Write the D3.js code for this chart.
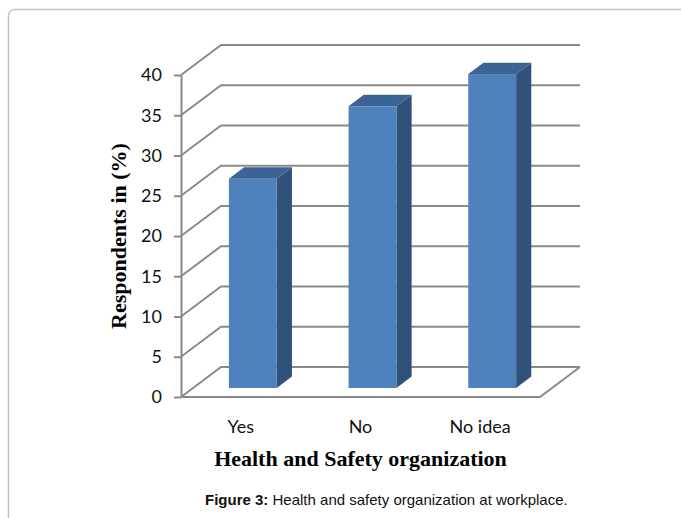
<!DOCTYPE html>
<html>
<head>
<meta charset="utf-8">
<script src="https://cdn.jsdelivr.net/npm/d3@7"></script>
<style>
  html, body { margin: 0; padding: 0; background: #fff; }
  svg { display: block; }
</style>
</head>
<body>
<div id="chart"></div>
<script>
// data
const categories = ["Yes", "No", "No idea"];
const values = [26, 35, 39];
const yTickValues = [0, 5, 10, 15, 20, 25, 30, 35, 40];

// size of the page
const W = 681, H = 518;

// front plane of the 3D box
const front = { left: 181, right: 540, top: 75, bottom: 397 };
// depth vector of the box (back wall offset)
const DX = 40, DY = -30;
// bar depth (fraction of box depth)
const barFront = 0.3, barBack = 0.68;

const svg = d3.select("#chart").append("svg")
  .attr("width", W)
  .attr("height", H);

// frame around the figure
svg.append("rect")
  .attr("x", 8.5).attr("y", 9.5)
  .attr("width", 700).attr("height", 600)
  .attr("rx", 6)
  .attr("fill", "none")
  .attr("stroke", "#c4c4c4")
  .attr("stroke-width", 1.5);

const x = d3.scaleBand()
  .domain(categories)
  .range([front.left, front.right])
  .paddingInner(0.6)
  .paddingOuter(0.3);

const y = d3.scaleLinear()
  .domain([0, 40])
  .range([front.bottom, front.top]);

const gridColor = "#8a8a8a";

// walls: diagonal on the left wall + line on the back wall
const grid = svg.append("g")
  .attr("fill", "none")
  .attr("stroke", gridColor)
  .attr("stroke-width", 2);

grid.selectAll("path.g")
  .data(yTickValues)
  .join("path")
  .attr("class", "g")
  .attr("d", v => `M${front.left},${y(v)} L${front.left + DX},${y(v) + DY} L${front.right + DX},${y(v) + DY}`);

// floor front and right edges
grid.append("path")
  .attr("d", `M${front.left},${y(0)} L${front.right},${y(0)} L${front.right + DX},${y(0) + DY}`);

// y axis
const yAxis = svg.append("g")
  .attr("transform", `translate(${front.left},0)`)
  .call(d3.axisLeft(y).tickValues(yTickValues).tickSize(7).tickSizeOuter(0).tickPadding(12));

yAxis.select(".domain").attr("stroke", gridColor).attr("stroke-width", 2);
yAxis.selectAll(".tick line").attr("stroke", gridColor).attr("stroke-width", 2);
yAxis.selectAll(".tick text")
  .attr("font-family", "Lato, 'Open Sans', sans-serif")
  .attr("font-size", 18)
  .attr("fill", "#111");

// bars
const colors = { front: "#4f81bd", top: "#3b6395", side: "#30527a" };
const bars = svg.append("g").selectAll("g")
  .data(categories.map((c, i) => ({ cat: c, val: values[i] })))
  .join("g");

function shift(f) { return [f * DX, f * DY]; }
const [fx, fy] = shift(barFront);
const [bx, by] = shift(barBack);
const ddx = bx - fx, ddy = by - fy;

bars.each(function (d) {
  const g = d3.select(this);
  const x0 = x(d.cat) + fx;
  const x1 = x0 + x.bandwidth();
  const yb = y(0) + fy;
  const yt = y(d.val) + fy;

  g.append("path")
    .attr("fill", colors.side)
    .attr("d", `M${x1},${yt} L${x1 + ddx},${yt + ddy} L${x1 + ddx},${yb + ddy} L${x1},${yb}Z`);
  g.append("path")
    .attr("fill", colors.top)
    .attr("d", `M${x0},${yt} L${x0 + ddx},${yt + ddy} L${x1 + ddx},${yt + ddy} L${x1},${yt}Z`);
  g.append("rect")
    .attr("fill", colors.front)
    .attr("x", x0).attr("y", yt)
    .attr("width", x1 - x0).attr("height", yb - yt);
});

// category labels
svg.append("g").selectAll("text")
  .data(categories)
  .join("text")
  .attr("x", d => x(d) + x.bandwidth() / 2)
  .attr("y", 433)
  .attr("text-anchor", "middle")
  .attr("font-family", "Lato, 'Open Sans', sans-serif")
  .attr("font-size", 18)
  .attr("fill", "#111")
  .text(d => d);

// axis titles
svg.append("text")
  .attr("x", (front.left + front.right) / 2)
  .attr("y", 466)
  .attr("text-anchor", "middle")
  .attr("font-family", "'Liberation Serif', 'Times New Roman', serif")
  .attr("font-weight", "bold")
  .attr("font-size", 22)
  .text("Health and Safety organization");

svg.append("text")
  .attr("transform", "translate(126,236) rotate(-90)")
  .attr("text-anchor", "middle")
  .attr("font-family", "'Liberation Serif', 'Times New Roman', serif")
  .attr("font-weight", "bold")
  .attr("font-size", 22)
  .text("Respondents in (%)");

// caption
const cap = svg.append("text")
  .attr("x", 205)
  .attr("y", 505)
  .attr("font-family", "'Liberation Sans', Arial, sans-serif")
  .attr("font-size", 15)
  .attr("fill", "#111");
cap.append("tspan").attr("font-weight", "bold").text("Figure 3:");
cap.append("tspan").text(" Health and safety organization at workplace.");
</script>
</body>
</html>
